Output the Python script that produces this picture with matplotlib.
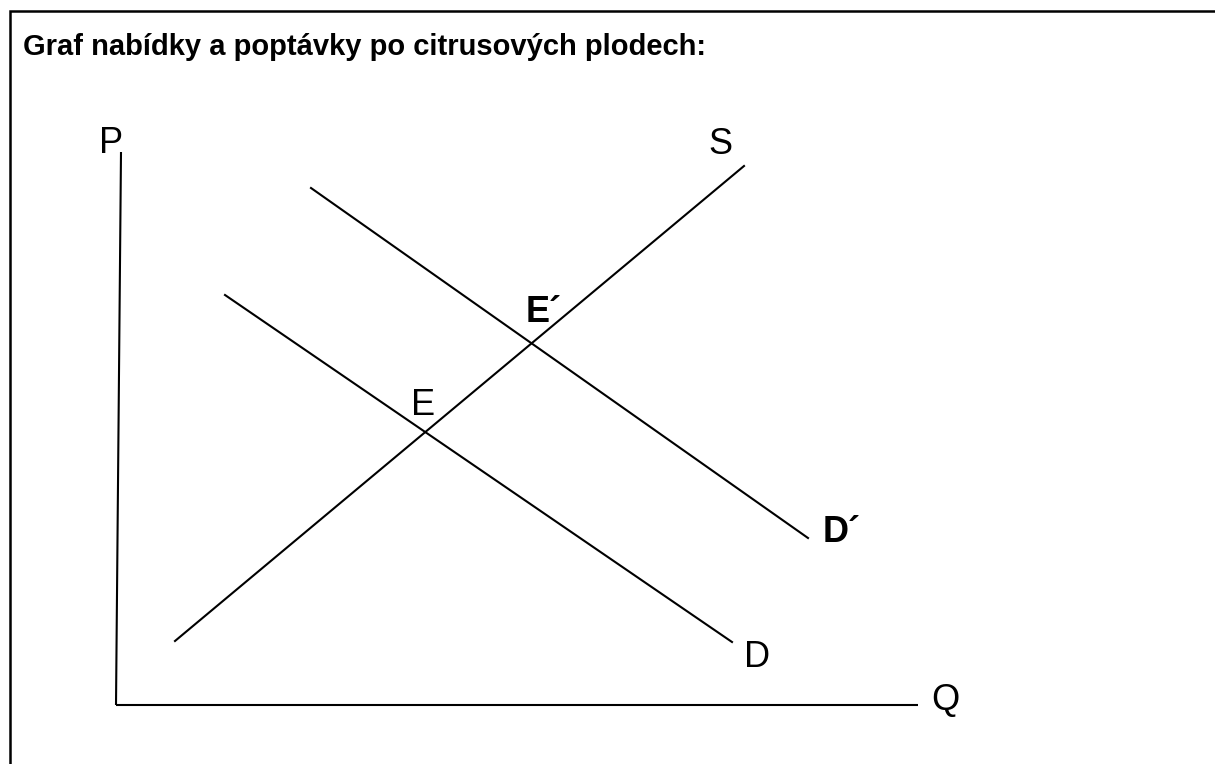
import matplotlib
matplotlib.use("Agg")
import matplotlib.pyplot as plt
from matplotlib.lines import Line2D

plt.rcParams['font.family'] = ['Liberation Sans', 'DejaVu Sans']

# ---- data (quantity Q, price P) ----
title = "Graf nabídky a poptávky po citrusových plodech:"
axis_p_q = [0.5, 0.0]
axis_p_p = [55.3, 0.0]
axis_q_q = [0.0, 80.2]
axis_q_p = [0.0, 0.0]
supply_q = [5.9, 62.8]
supply_p = [6.4, 53.9]
demand_q = [10.9, 61.6]
demand_p = [41.0, 6.3]
demand2_q = [19.5, 69.2]
demand2_p = [51.7, 16.7]
labels = ["P", "Q", "S", "D", "D´", "E", "E´"]

W, H = 1215, 764
fig = plt.figure(figsize=(W / 100, H / 100), dpi=100)
ax = fig.add_axes([0, 0, 1, 1])
# map data units so that origin sits at pixel (116, 705), 10 px per unit
ax.set_xlim(-116 / 10, (W - 116) / 10)
ax.set_ylim((705 - H) / 10, 705 / 10)
ax.axis('off')

lw = 1.5
ax.plot(axis_p_q, axis_p_p, color='black', lw=lw, solid_capstyle='butt')
ax.plot(axis_q_q, axis_q_p, color='black', lw=lw, solid_capstyle='butt')
ax.plot(supply_q, supply_p, color='black', lw=lw)
ax.plot(demand_q, demand_p, color='black', lw=lw)
ax.plot(demand2_q, demand2_p, color='black', lw=lw)

fs = 26
ax.text(-0.45, 55.2, labels[0], fontsize=fs, ha='center', va='baseline')
ax.text(81.5, -0.5, labels[1], fontsize=fs, ha='left', va='baseline')
ax.text(60.4, 55.1, labels[2], fontsize=fs, ha='center', va='baseline')
ax.text(62.8, 3.8, labels[3], fontsize=fs, ha='left', va='baseline')
ax.text(70.7, 16.3, labels[4], fontsize=fs, ha='left', va='baseline', fontweight='bold')
ax.text(29.5, 29.0, labels[5], fontsize=fs, ha='left', va='baseline')
ax.text(41.0, 38.3, labels[6], fontsize=fs, ha='left', va='baseline', fontweight='bold')

# title and frame
fig.text(23 / W, 1 - 55 / H, title, fontsize=21, fontweight='bold',
         ha='left', va='baseline')
fig.add_artist(Line2D([10 / W, 10 / W, 1.0], [0.0, 1 - 11 / H, 1 - 11 / H],
                      transform=fig.transFigure, color='black', lw=1.8,
                      solid_joinstyle='miter'))

fig.savefig("out.png", dpi=100)
